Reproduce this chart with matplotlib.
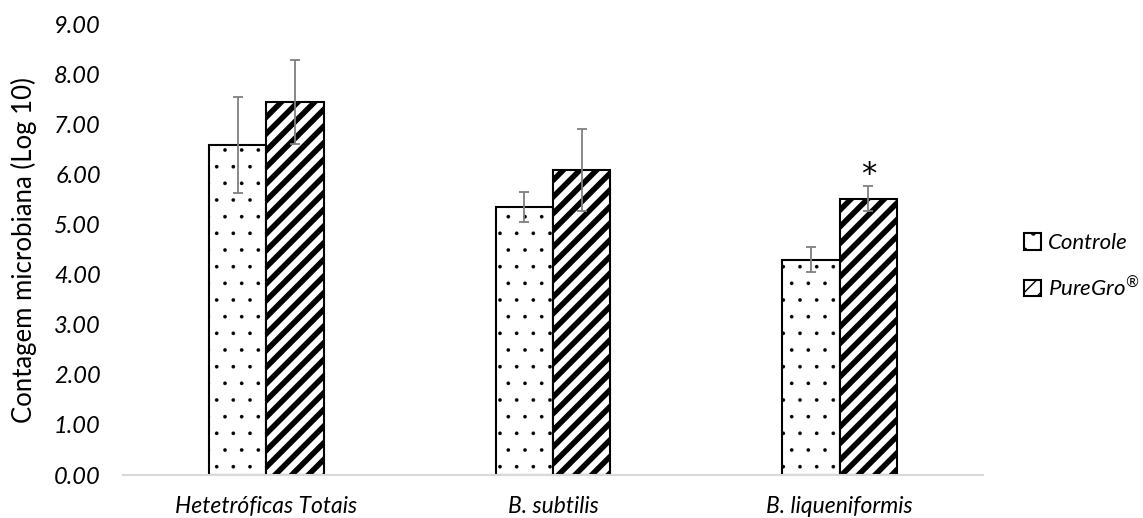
import numpy as np
import matplotlib
matplotlib.use("Agg")
from matplotlib import pyplot as plt

categories = ["Hetetróficas Totais", "B. subtilis", "B. liqueniformis"]
controle = [6.60, 5.35, 4.30]
controle_err = [0.96, 0.30, 0.25]
puregro = [7.45, 6.10, 5.52]
puregro_err = [0.84, 0.82, 0.25]
signif = ["", "", "*"]
yticks = [0, 1, 2, 3, 4, 5, 6, 7, 8, 9]

plt.rcParams['font.family'] = ['Lato', 'DejaVu Sans']
plt.rcParams['mathtext.fontset'] = 'custom'
plt.rcParams['mathtext.rm'] = 'Lato:italic'
plt.rcParams['mathtext.it'] = 'Lato:italic'

fig = plt.figure(figsize=(11.43, 5.18), dpi=100)
ax = fig.add_axes([0.1076, 0.083, 0.7524, 0.869])

x = np.arange(len(categories))
w = 0.2

b1 = ax.bar(x - w/2, controle, w, color="white", edgecolor="black", linewidth=1.5,
            hatch=".", label="Controle", zorder=2)
b2 = ax.bar(x + w/2, puregro, w, color="white", edgecolor="black", linewidth=1.5,
            hatch="//", label="PureGro$^{\u00ae}$", zorder=2)
for p in b1:
    p.set_hatch_linewidth(0.2)
for p in b2:
    p.set_hatch_linewidth(4.0)

ax.errorbar(x - w/2, controle, yerr=controle_err, fmt="none", ecolor="#7f7f7f",
            elinewidth=1.3, capsize=3.8, capthick=1.3, zorder=3)
ax.errorbar(x + w/2, puregro, yerr=puregro_err, fmt="none", ecolor="#7f7f7f",
            elinewidth=1.3, capsize=3.8, capthick=1.3, zorder=3)

for xi, v, e, s in zip(x, puregro, puregro_err, signif):
    if s:
        ax.text(xi + w/2, v + e + 0.24, s, ha="center", va="center", fontsize=22,
                family="DejaVu Sans")

ax.set_xlim(-0.5, 2.5)
ax.set_ylim(0, 9)
ax.set_yticks(yticks)
ax.set_yticklabels(["%.2f" % t for t in yticks], fontsize=17, style="italic")
ax.set_xticks(x)
ax.set_xticklabels(categories, fontsize=16.5, style="italic")
ax.tick_params(axis="y", length=0, pad=16)
ax.tick_params(axis="x", length=0, pad=15)
ax.set_ylabel("Contagem microbiana (Log 10)", fontsize=18.5, labelpad=12)

for s in ["top", "right", "left"]:
    ax.spines[s].set_visible(False)
ax.spines["bottom"].set_color("#d9d9d9")
ax.spines["bottom"].set_linewidth(1.5)

leg = ax.legend(loc="center left", bbox_to_anchor=(1.035, 0.463), frameon=False,
                prop={"size": 16, "style": "italic"}, handlelength=0.75,
                handleheight=0.75, handletextpad=0.3, labelspacing=1.0,
                borderpad=0)

fig.savefig("out.png", dpi=100)
